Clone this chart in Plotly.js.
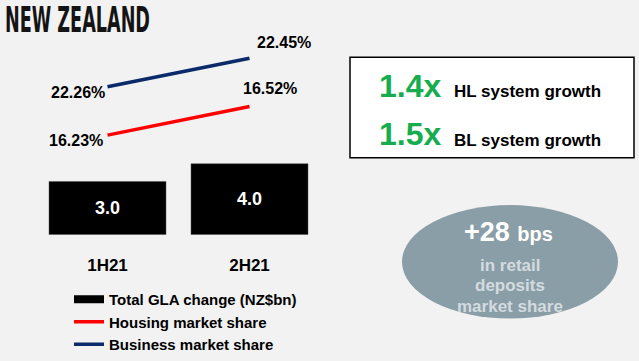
<!DOCTYPE html>
<html>
<head>
<meta charset="utf-8">
<script src="https://cdn.plot.ly/plotly-3.0.1.min.js"></script>
<style>
  html, body { margin: 0; padding: 0; background: #f2f2f2; }
  #chart { width: 639px; height: 361px; }
</style>
</head>
<body>
<div id="chart"></div>
<script>
// ---- data ----
const periods = ['1H21', '2H21'];
const glaChange = [3.0, 4.0];              // Total GLA change (NZ$bn)
const housingShare = [16.23, 16.52];       // %
const businessShare = [22.26, 22.45];      // %
const seriesNames = ['Total GLA change (NZ$bn)', 'Housing market share', 'Business market share'];
const growthMultiples = [1.4, 1.5];
const growthLabels = ['HL system growth', 'BL system growth'];
const depositBps = 28;
const depositLines = ['in retail', 'deposits', 'market share'];
const titleText = 'NEW ZEALAND';

// ---- style ----
const W = 639, H = 361;
const FONT = 'Liberation Sans, Arial, Helvetica, sans-serif';
const px = v => v / W;
const py = v => 1 - v / H;
const NAVY = '#0b2a6a', RED = '#ff0000', GREEN = '#17ad4f', ELLIPSE = '#8a9ea8';

const traces = [
  { type: 'bar', x: periods, y: glaChange, width: 0.824,
    marker: { color: '#000000', line: { color: '#555', width: 0.5 } },
    text: glaChange.map(v => v.toFixed(1)), textposition: 'inside', insidetextanchor: 'middle',
    textfont: { color: '#ffffff', size: 18, family: FONT, weight: 'bold' },
    showlegend: false, hoverinfo: 'skip', cliponaxis: false },
  { type: 'scatter', mode: 'lines', x: [null], y: [null], name: seriesNames[0],
    line: { color: '#000000', width: 8 }, hoverinfo: 'skip' },
  { type: 'scatter', mode: 'lines', x: periods, y: housingShare, yaxis: 'y3', name: seriesNames[1],
    line: { color: RED, width: 3.5 }, hoverinfo: 'skip' },
  { type: 'scatter', mode: 'lines', x: periods, y: businessShare, yaxis: 'y2', name: seriesNames[2],
    line: { color: NAVY, width: 3.5 }, hoverinfo: 'skip' }
];

const labelFont = { family: FONT, size: 16, color: '#000', weight: 'bold' };
const annotations = [
  { xref: 'x', yref: 'y2', x: periods[0], y: businessShare[0], text: businessShare[0].toFixed(2) + '%',
    showarrow: false, xanchor: 'right', xshift: -1, yshift: -6, font: labelFont },
  { xref: 'x', yref: 'y2', x: periods[1], y: businessShare[1], text: businessShare[1].toFixed(2) + '%',
    showarrow: false, xanchor: 'center', xshift: 34, yshift: 16, font: labelFont },
  { xref: 'x', yref: 'y3', x: periods[0], y: housingShare[0], text: housingShare[0].toFixed(2) + '%',
    showarrow: false, xanchor: 'right', xshift: -3, yshift: -5, font: labelFont },
  { xref: 'x', yref: 'y3', x: periods[1], y: housingShare[1], text: housingShare[1].toFixed(2) + '%',
    showarrow: false, xanchor: 'center', xshift: 20, yshift: 18, font: labelFont }
];

// growth box rows
const rowY = [87, 136];
growthMultiples.forEach((m, i) => {
  annotations.push({ xref: 'paper', yref: 'paper', x: px(443), y: py(rowY[i]), text: m.toFixed(1) + 'x',
    showarrow: false, xanchor: 'right', yanchor: 'middle',
    font: { family: FONT, size: 32, color: GREEN, weight: 'bold' } });
  annotations.push({ xref: 'paper', yref: 'paper', x: px(452), y: py(rowY[i] + 6), text: growthLabels[i],
    showarrow: false, xanchor: 'left', yanchor: 'middle',
    font: { family: FONT, size: 17, color: '#000', weight: 'bold' } });
});

// deposits ellipse text
annotations.push({ xref: 'paper', yref: 'paper', x: px(509), y: py(235),
  text: '+' + depositBps + " <span style='font-size:20px'>bps</span>",
  showarrow: false, xanchor: 'center', yanchor: 'middle',
  font: { family: FONT, size: 27, color: '#ffffff', weight: 'bold' } });
const depY = [269, 290, 311];
depositLines.forEach((t, i) => {
  annotations.push({ xref: 'paper', yref: 'paper', x: px(510), y: py(depY[i]), text: t,
    showarrow: false, xanchor: 'center', yanchor: 'middle',
    font: { family: FONT, size: 17, color: '#d3dbdf', weight: 'bold' } });
});

const shapes = [
  { type: 'rect', xref: 'paper', yref: 'paper', x0: px(350), x1: px(634), y0: py(160), y1: py(58),
    fillcolor: '#ffffff', line: { color: '#000', width: 1.5 }, layer: 'below' },
  { type: 'circle', xref: 'paper', yref: 'paper', x0: px(402), x1: px(618), y0: py(323), y1: py(208),
    fillcolor: ELLIPSE, line: { width: 0 }, layer: 'below' }
];

const yBottom = 238, yTop = 30;
const layout = {
  width: W, height: H,
  margin: { l: 0, r: 0, t: 0, b: 0, pad: 0 },
  paper_bgcolor: '#f2f2f2', plot_bgcolor: 'rgba(0,0,0,0)',
  title: { text: titleText, x: px(5), xanchor: 'left', xref: 'paper', y: py(20), yanchor: 'middle', yref: 'paper',
    font: { family: 'Liberation Sans Narrow, DejaVu Sans Condensed, Arial Narrow, sans-serif', size: 36, color: '#141414', weight: 'bold' } },
  xaxis: { type: 'category', domain: [px(36.5), px(320.5)], range: [-0.5, 1.5],
    showgrid: false, zeroline: false, showline: false, ticks: '', ticklabelstandoff: 18,
    tickfont: { family: FONT, size: 17, color: '#000', weight: 'bold' }, fixedrange: true },
  yaxis: { domain: [py(yBottom), py(yTop)], range: [0, (yBottom - yTop) / 18], visible: false, fixedrange: true },
  yaxis2: { overlaying: 'y', range: [21.277, 22.640], visible: false, fixedrange: true },
  yaxis3: { overlaying: 'y', range: [15.22, 17.30], visible: false, fixedrange: true },
  showlegend: true,
  legend: { x: px(69), xanchor: 'left', y: py(287), yanchor: 'top', bgcolor: 'rgba(0,0,0,0)',
    font: { family: FONT, size: 15, color: '#000', weight: 'bold' }, traceorder: 'normal', itemwidth: 30 },
  shapes: shapes, annotations: annotations
};

Plotly.newPlot('chart', traces, layout, { staticPlot: true, displayModeBar: false }).then(gd => {
  const t = gd.querySelector('.gtitle');
  if (t) { t.setAttribute('textLength', '145'); t.setAttribute('lengthAdjust', 'spacingAndGlyphs'); }
});
</script>
</body>
</html>
